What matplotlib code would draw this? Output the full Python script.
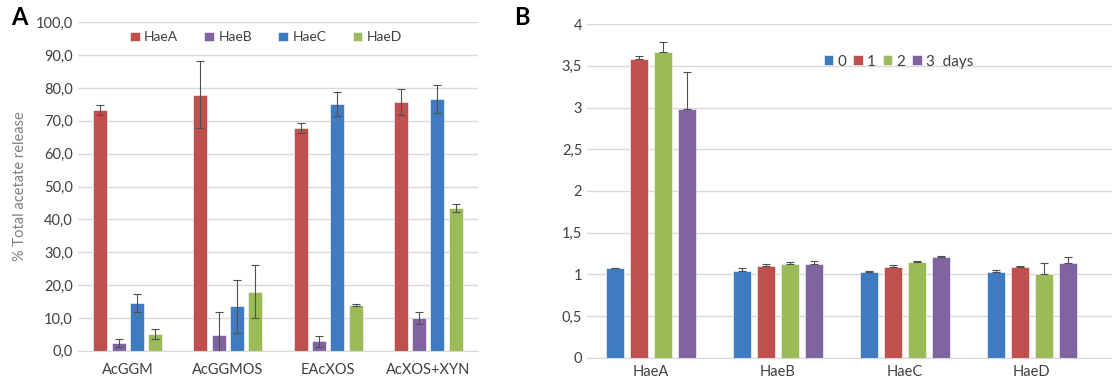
import numpy as np
import matplotlib
matplotlib.use("Agg")
import matplotlib.pyplot as plt

plt.rcParams['font.family'] = ['Lato', 'DejaVu Sans']

# Panel A data
substrates = ["AcGGM", "AcGGMOS", "EAcXOS", "AcXOS+XYN"]
enzymes = ["HaeA", "HaeB", "HaeC", "HaeD"]
releaseA = [
    [73.3, 77.9, 67.8, 75.8],   # HaeA
    [2.3, 4.8, 2.9, 9.9],       # HaeB
    [14.5, 13.6, 75.1, 76.7],   # HaeC
    [5.1, 18.0, 13.9, 43.4],    # HaeD
]
errA = [
    [1.4, 10.2, 1.6, 3.9],
    [1.2, 6.9, 1.6, 1.8],
    [2.7, 8.1, 3.7, 4.2],
    [1.5, 8.0, 0.2, 1.2],
]
yticksA = [0, 10, 20, 30, 40, 50, 60, 70, 80, 90, 100]

# Panel B data
proteins = ["HaeA", "HaeB", "HaeC", "HaeD"]
day_labels = ["0", "1", "2", "3  days"]
foldB = [
    [1.07, 1.04, 1.03, 1.03],   # day 0
    [3.58, 1.10, 1.09, 1.09],   # day 1
    [3.67, 1.12, 1.15, 1.00],   # day 2
    [2.98, 1.12, 1.21, 1.14],   # day 3
]
errB = [
    [0.01, 0.035, 0.01, 0.025],
    [0.04, 0.025, 0.02, 0.01],
    [0.12, 0.025, 0.01, 0.14],
    [0.44, 0.035, 0.01, 0.07],
]
yticksB = [0, 0.5, 1, 1.5, 2, 2.5, 3, 3.5, 4]

RED = "#C0504D"
PURPLE = "#8064A2"
BLUE = "#3F7BC1"
GREEN = "#9BBB59"
GRID = "#D9D9D9"
TXT = "#404040"

fig = plt.figure(figsize=(11.12, 3.83), dpi=100)

# ---------- Panel A ----------
axA = fig.add_axes([0.070, 0.084, 0.360, 0.858])
colorsA = [RED, PURPLE, BLUE, GREEN]
x = np.arange(len(substrates))
step = 0.183
for i, name in enumerate(enzymes):
    pos = x + (i - 1.5) * step
    axA.bar(pos, releaseA[i], width=0.14, color=colorsA[i], label=name,
            edgecolor="white", linewidth=0.4, zorder=2)
    axA.errorbar(pos, releaseA[i], yerr=errA[i], fmt="none", ecolor="#505050",
                 elinewidth=0.8, capsize=3, capthick=0.8, zorder=3)
axA.set_xlim(-0.5, 3.5)
axA.set_ylim(0, 100)
axA.set_yticks(yticksA)
axA.set_yticklabels([f"{v:.1f}".replace(".", ",") for v in yticksA])
axA.set_xticks(x)
axA.set_xticklabels(substrates)
axA.yaxis.grid(True, color=GRID, linewidth=1)
axA.set_axisbelow(True)
for s in ["top", "right", "left"]:
    axA.spines[s].set_visible(False)
axA.spines["bottom"].set_color(GRID)
axA.tick_params(axis="both", length=0, labelsize=10.5, colors=TXT)
axA.tick_params(axis="x", pad=9)
axA.set_ylabel("% Total acetate release", color="#808080", fontsize=10.5, labelpad=6)
axA.legend(loc="upper center", bbox_to_anchor=(0.47, 1.01), ncol=4, frameon=False,
           fontsize=10, handlelength=0.7, handleheight=0.7, columnspacing=1.9,
           handletextpad=0.3, labelcolor=TXT)
fig.text(0.010, 0.935, "A", fontsize=17, fontweight="bold")

# ---------- Panel B ----------
axB = fig.add_axes([0.528, 0.066, 0.472, 0.871])
colorsB = [BLUE, RED, GREEN, PURPLE]
xb = np.arange(len(proteins))
stepB = 0.189
for i, lab in enumerate(day_labels):
    pos = xb + (i - 1.5) * stepB
    axB.bar(pos, foldB[i], width=0.142, color=colorsB[i], label=lab,
            edgecolor="white", linewidth=0.4, zorder=2)
    axB.errorbar(pos, foldB[i], yerr=[np.zeros(4), errB[i]], fmt="none",
                 ecolor="#505050", elinewidth=0.8, capsize=3, capthick=0.8, zorder=3)
axB.set_xlim(-0.5, 3.63)
axB.set_ylim(0, 4)
axB.set_yticks(yticksB)
axB.set_yticklabels([f"{v:g}".replace(".", ",") for v in yticksB])
axB.set_xticks(xb)
axB.set_xticklabels(proteins)
axB.yaxis.grid(True, color=GRID, linewidth=1)
axB.set_axisbelow(True)
for s in ["top", "right", "left"]:
    axB.spines[s].set_visible(False)
axB.spines["bottom"].set_color(GRID)
axB.tick_params(axis="both", length=0, labelsize=10.5, colors=TXT)
axB.tick_params(axis="x", pad=5)
axB.legend(loc="upper left", bbox_to_anchor=(0.425, 0.95), ncol=4, frameon=False,
           fontsize=11, handlelength=0.6, handleheight=0.6, columnspacing=0.45,
           handletextpad=0.3, labelcolor=TXT)
fig.text(0.462, 0.935, "B", fontsize=17, fontweight="bold")

fig.savefig("out.png", dpi=100)
